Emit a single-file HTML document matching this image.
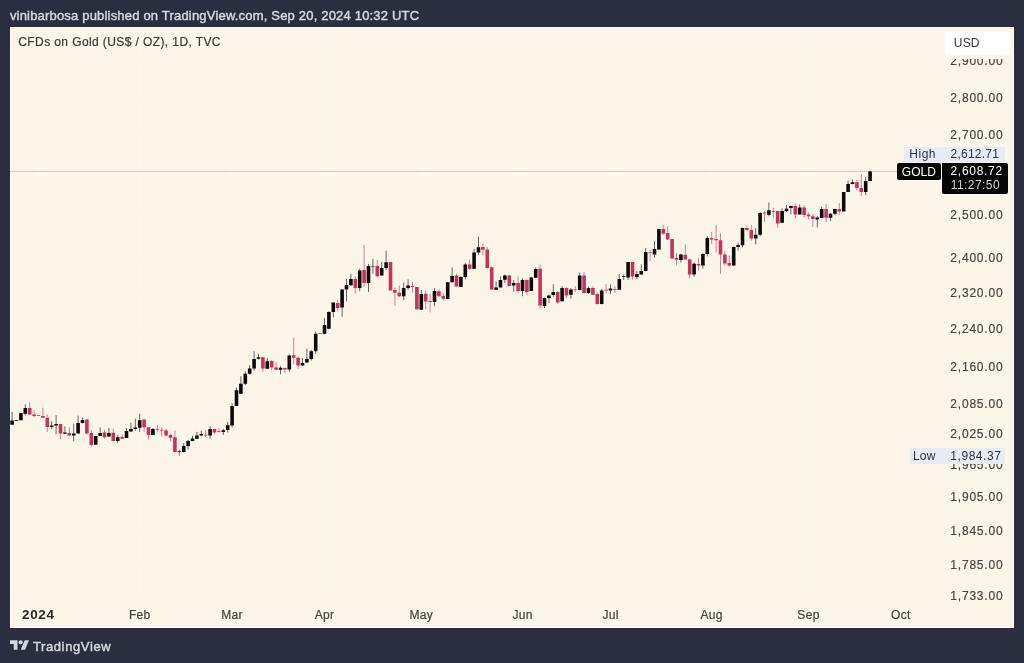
<!DOCTYPE html>
<html lang="en"><head><meta charset="utf-8"><title>CFDs on Gold (US$ / OZ), 1D, TVC</title>
<style>
html,body{margin:0;padding:0}
body{width:1024px;height:663px;background:#2a2e3f;position:relative;overflow:hidden;font-family:"Liberation Sans",Arial,sans-serif}
.abs{position:absolute;white-space:pre;line-height:1}
#hdr{left:9.9px;top:8.6px;font-size:13px;font-weight:400;color:#d3d6de;letter-spacing:0.19px;-webkit-text-stroke:0.45px #d3d6de}
#chart{left:9.5px;top:26.5px;width:1004.5px;height:601.0px;background:#fcf5ea;box-shadow:inset 0 0 0 1px #fffdf8}
#ttl{font-size:12px;color:#3c3a38;letter-spacing:0.4px;-webkit-text-stroke:0.2px #3c3a38}
.pl{font-size:12px;color:#4a4744;letter-spacing:0.8px;left:950.3px;-webkit-text-stroke:0.2px #4a4744}
.ml{font-size:12px;color:#45423f;letter-spacing:0.3px;-webkit-text-stroke:0.2px #45423f;transform:translateX(-50%)}
#usd{left:945px;top:31.5px;width:64.5px;height:23px;background:#fff;border-radius:3px}
.band{background:#e6ebf6;color:#2e3348;font-size:12px}
svg{position:absolute;left:0;top:0}

</style></head><body>
<div id="hdr" class="abs">vinibarbosa published on TradingView.com, Sep 20, 2024 10:32 UTC</div>
<div id="chart" class="abs"></div>
<svg width="1024" height="663" viewBox="0 0 1024 663">
<path d="M38.5 27.5V600M139.7 27.5V600M232.1 27.5V600M324.5 27.5V600M421.3 27.5V600M522.5 27.5V600M610.5 27.5V600M711.7 27.5V600M808.5 27.5V600M900.9 27.5V600M10.5 61.2H941M10.5 97.6H941M10.5 135.4H941M10.5 174.5H941M10.5 215.2H941M10.5 257.6H941M10.5 292.8H941M10.5 329.2H941M10.5 367.0H941M10.5 403.7H941M10.5 434.0H941M10.5 465.2H941M10.5 497.4H941M10.5 530.6H941M10.5 565.0H941M10.5 595.6H941" stroke="#fcf7ee" stroke-width="1" fill="none"/>
<path d="M10 171.4H897" stroke="#b5b0a6" stroke-width="0.8" stroke-dasharray="1.6 0.4" fill="none"/>
<path d="M29.70 402.12V414.62M34.10 410.00V417.50M42.90 407.50V418.12M47.30 414.38V431.88M60.50 424.00V439.38M69.30 427.25V436.00M86.90 419.38V434.38M91.30 430.25V446.88M104.50 430.00V438.75M113.30 428.50V441.25M122.10 434.38V439.00M144.10 419.38V431.88M148.50 427.25V439.38M157.30 425.00V431.88M161.70 427.50V436.25M166.10 428.75V436.25M170.50 433.75V441.25M174.90 430.62V452.50M205.70 430.00V436.88M214.50 428.75V434.38M218.90 428.12V432.50M262.90 356.88V371.88M271.70 360.00V370.62M276.10 361.88V370.00M284.90 367.50V373.12M293.70 337.50V364.38M298.10 356.25V368.75M337.70 300.00V311.25M355.30 276.25V293.75M364.10 245.00V286.88M377.30 260.00V277.50M394.90 287.50V305.62M399.30 285.62V296.88M412.50 281.88V292.50M425.70 290.62V309.38M430.10 293.75V312.50M438.90 289.38V296.88M443.30 293.12V300.62M456.50 273.75V286.88M469.70 259.38V270.00M482.90 243.75V255.00M487.30 246.88V268.75M491.70 266.25V289.62M509.30 275.00V286.25M518.10 276.25V293.12M526.90 279.38V295.00M540.10 264.38V308.75M557.70 291.25V303.75M566.50 287.50V298.12M575.30 286.25V291.88M584.10 271.88V293.75M592.90 286.25V295.00M597.30 292.50V304.38M606.10 283.75V293.75M614.90 286.25V293.12M632.50 261.88V279.38M650.10 250.00V261.25M663.30 225.00V235.00M667.70 226.25V239.75M672.10 238.75V258.75M676.50 253.12V265.00M685.30 244.38V259.75M689.70 258.75V278.12M698.50 257.50V270.62M711.70 231.88V244.38M716.10 225.00V252.50M720.50 233.12V273.75M724.90 251.25V265.62M729.30 255.62V266.88M746.90 225.62V231.25M751.30 225.00V240.62M764.50 211.25V221.88M773.30 207.50V217.50M777.70 210.62V227.75M795.30 203.75V218.12M804.10 205.00V217.50M808.50 212.50V219.38M812.90 213.75V226.88M826.10 203.75V221.88M839.30 203.12V215.00M856.90 180.00V190.62M861.30 174.38V196.25" stroke="#c2335d" stroke-width="0.62" fill="none"/>
<path d="M27.90 408.12h3.6V414.62h-3.6zM32.30 414.62h3.6V416.00h-3.6zM36.70 415.33h3.6V415.93h-3.6zM41.10 415.88h3.6V417.75h-3.6zM45.50 417.75h3.6V426.88h-3.6zM58.70 424.00h3.6V433.50h-3.6zM67.50 432.88h3.6V435.62h-3.6zM85.10 419.38h3.6V433.50h-3.6zM89.50 433.12h3.6V445.00h-3.6zM102.70 432.50h3.6V437.25h-3.6zM111.50 432.75h3.6V441.00h-3.6zM120.30 436.88h3.6V438.75h-3.6zM142.30 419.38h3.6V427.25h-3.6zM146.70 427.25h3.6V435.00h-3.6zM155.50 429.12h3.6V429.75h-3.6zM159.90 429.75h3.6V430.62h-3.6zM164.30 430.38h3.6V435.38h-3.6zM168.70 435.00h3.6V437.75h-3.6zM173.10 437.25h3.6V451.88h-3.6zM203.90 434.75h3.6V435.38h-3.6zM212.70 429.12h3.6V432.50h-3.6zM217.10 431.25h3.6V431.88h-3.6zM261.10 357.25h3.6V368.50h-3.6zM269.90 361.00h3.6V367.50h-3.6zM274.30 367.50h3.6V369.75h-3.6zM283.10 368.12h3.6V369.38h-3.6zM291.90 355.25h3.6V357.75h-3.6zM296.30 357.75h3.6V365.62h-3.6zM335.90 302.88h3.6V308.12h-3.6zM353.50 279.12h3.6V288.12h-3.6zM362.30 270.00h3.6V283.12h-3.6zM375.50 265.88h3.6V276.25h-3.6zM388.70 261.88h3.6V290.62h-3.6zM393.10 290.00h3.6V292.75h-3.6zM397.50 292.75h3.6V296.25h-3.6zM410.70 286.00h3.6V286.88h-3.6zM415.10 286.88h3.6V309.38h-3.6zM423.90 293.75h3.6V301.50h-3.6zM428.30 301.00h3.6V301.88h-3.6zM437.10 291.25h3.6V296.25h-3.6zM441.50 296.00h3.6V298.75h-3.6zM454.70 275.62h3.6V286.50h-3.6zM467.90 264.38h3.6V268.75h-3.6zM481.10 246.88h3.6V249.75h-3.6zM485.50 249.62h3.6V268.12h-3.6zM489.90 267.25h3.6V289.62h-3.6zM507.50 275.62h3.6V285.88h-3.6zM516.30 283.12h3.6V290.88h-3.6zM525.10 280.00h3.6V291.88h-3.6zM538.30 268.75h3.6V305.62h-3.6zM555.90 291.88h3.6V302.50h-3.6zM564.70 288.12h3.6V295.62h-3.6zM573.50 289.38h3.6V290.00h-3.6zM582.30 275.62h3.6V293.12h-3.6zM591.10 287.88h3.6V294.75h-3.6zM595.50 294.00h3.6V304.00h-3.6zM604.30 289.75h3.6V290.38h-3.6zM613.10 289.12h3.6V289.75h-3.6zM630.70 262.12h3.6V276.50h-3.6zM648.30 252.25h3.6V253.12h-3.6zM661.50 229.12h3.6V233.75h-3.6zM665.90 233.12h3.6V239.38h-3.6zM670.30 239.12h3.6V258.50h-3.6zM674.70 258.12h3.6V259.75h-3.6zM683.50 254.75h3.6V259.38h-3.6zM687.90 259.38h3.6V274.38h-3.6zM696.70 264.00h3.6V265.38h-3.6zM709.90 237.88h3.6V239.38h-3.6zM714.30 239.12h3.6V240.25h-3.6zM718.70 240.25h3.6V254.62h-3.6zM723.10 254.62h3.6V263.50h-3.6zM727.50 262.88h3.6V265.62h-3.6zM745.10 228.12h3.6V230.00h-3.6zM749.50 230.00h3.6V238.38h-3.6zM762.70 212.50h3.6V213.50h-3.6zM771.50 211.25h3.6V212.00h-3.6zM775.90 211.00h3.6V223.50h-3.6zM793.50 206.00h3.6V214.62h-3.6zM802.30 207.50h3.6V215.00h-3.6zM806.70 214.38h3.6V216.25h-3.6zM811.10 216.25h3.6V219.00h-3.6zM824.30 209.12h3.6V217.75h-3.6zM837.50 209.12h3.6V211.50h-3.6zM855.10 182.25h3.6V188.12h-3.6zM859.50 188.12h3.6V191.88h-3.6z" fill="#c2335d"/>
<path d="M12.10 411.88V424.75M25.30 404.38V415.62M51.70 421.25V429.00M56.10 415.00V434.38M64.90 426.25V433.75M73.70 423.75V441.25M78.10 415.62V433.38M82.50 417.75V423.50M100.10 427.50V436.00M108.90 428.12V436.62M117.70 435.00V443.12M126.50 428.12V438.12M130.90 422.75V431.62M135.30 418.75V430.62M139.70 413.75V431.88M152.90 428.12V435.00M179.30 450.00V455.62M183.70 443.12V452.25M188.10 440.00V449.38M192.50 435.62V441.25M196.90 431.88V439.00M201.30 430.62V436.25M210.10 426.25V438.75M223.30 428.75V435.00M227.70 421.88V432.50M232.10 403.12V427.50M236.50 387.50V406.25M240.90 376.25V394.00M245.30 371.25V385.00M249.70 365.00V374.38M254.10 351.25V370.62M258.50 353.75V359.38M267.30 358.12V368.75M280.50 366.25V374.38M289.30 354.38V371.88M302.50 358.12V365.88M306.90 348.75V362.75M311.30 350.00V360.62M315.70 331.25V353.75M324.50 318.12V334.38M328.90 311.25V329.38M333.30 302.50V317.50M342.10 289.38V316.88M346.50 278.75V301.25M350.90 273.75V285.62M359.70 268.75V291.25M368.50 264.38V291.88M372.90 258.75V273.75M381.70 261.88V275.62M386.10 250.62V270.00M403.70 282.50V300.00M408.10 279.38V290.00M421.30 290.00V310.00M434.50 288.12V306.25M447.70 281.88V299.38M452.10 267.50V282.50M460.90 276.25V286.88M465.30 263.12V279.38M474.10 248.75V268.75M478.50 236.50V255.00M496.10 281.25V290.00M500.50 276.25V287.50M504.90 274.38V283.12M513.70 280.00V291.88M522.50 278.12V296.25M531.30 276.88V290.88M535.70 267.50V278.12M544.50 297.50V308.12M548.90 294.38V303.12M553.30 284.38V296.88M562.10 286.25V301.50M570.90 288.12V298.75M579.70 272.50V290.62M588.50 286.88V293.75M601.70 288.75V304.38M610.50 284.38V293.75M619.30 273.75V290.00M623.70 274.38V280.00M628.10 261.88V280.00M636.90 271.25V279.38M641.30 264.38V274.62M645.70 248.12V271.25M654.50 241.25V257.50M658.90 229.12V249.62M680.90 253.75V262.50M694.10 262.50V276.88M702.90 253.12V268.50M707.30 236.25V256.25M733.70 246.25V266.00M738.10 242.50V250.62M742.50 227.50V247.50M755.70 228.12V244.38M760.10 211.88V236.25M768.90 202.50V216.25M782.10 208.12V223.12M786.50 205.00V211.88M790.90 205.62V214.38M799.70 204.38V214.38M817.30 216.25V227.50M821.70 206.88V218.12M830.50 213.12V221.25M834.90 208.75V215.00M848.10 180.62V191.88M852.50 179.38V184.38M865.70 176.88V195.00M870.10 170.62V181.00" stroke="#0b0b0b" stroke-width="0.62" fill="none"/>
<path d="M10.30 420.62h3.6V424.75h-3.6zM14.70 420.33h3.6V420.93h-3.6zM19.10 412.88h3.6V420.25h-3.6zM23.50 408.12h3.6V413.75h-3.6zM49.90 425.38h3.6V426.88h-3.6zM54.30 424.00h3.6V425.62h-3.6zM63.10 432.50h3.6V433.75h-3.6zM71.90 433.38h3.6V435.38h-3.6zM76.30 423.12h3.6V433.38h-3.6zM80.70 420.00h3.6V423.12h-3.6zM93.90 436.00h3.6V444.75h-3.6zM98.30 432.88h3.6V436.00h-3.6zM107.10 432.88h3.6V436.62h-3.6zM115.90 437.25h3.6V441.00h-3.6zM124.70 431.00h3.6V438.12h-3.6zM129.10 429.00h3.6V431.62h-3.6zM133.50 427.50h3.6V429.12h-3.6zM137.90 420.25h3.6V427.75h-3.6zM151.10 429.12h3.6V435.00h-3.6zM177.50 451.25h3.6V451.88h-3.6zM181.90 445.88h3.6V451.88h-3.6zM186.30 440.88h3.6V446.00h-3.6zM190.70 438.50h3.6V441.00h-3.6zM195.10 435.38h3.6V438.75h-3.6zM199.50 434.00h3.6V435.62h-3.6zM208.30 429.12h3.6V435.38h-3.6zM221.50 430.25h3.6V432.12h-3.6zM225.90 425.25h3.6V430.00h-3.6zM230.30 406.00h3.6V425.62h-3.6zM234.70 390.25h3.6V406.00h-3.6zM239.10 383.75h3.6V393.75h-3.6zM243.50 373.75h3.6V383.75h-3.6zM247.90 368.38h3.6V373.75h-3.6zM252.30 359.12h3.6V368.38h-3.6zM256.70 357.25h3.6V358.75h-3.6zM265.50 361.25h3.6V368.75h-3.6zM278.70 367.75h3.6V369.75h-3.6zM287.50 355.62h3.6V369.38h-3.6zM300.70 363.12h3.6V365.62h-3.6zM305.10 359.12h3.6V362.50h-3.6zM309.50 351.25h3.6V359.12h-3.6zM313.90 333.75h3.6V351.25h-3.6zM318.30 332.88h3.6V333.50h-3.6zM322.70 325.00h3.6V333.75h-3.6zM327.10 311.88h3.6V328.75h-3.6zM331.50 302.50h3.6V311.88h-3.6zM340.30 289.38h3.6V307.50h-3.6zM344.70 285.00h3.6V289.62h-3.6zM349.10 279.12h3.6V285.25h-3.6zM357.90 270.62h3.6V288.12h-3.6zM366.70 265.88h3.6V283.12h-3.6zM371.10 265.95h3.6V266.55h-3.6zM379.90 268.12h3.6V275.62h-3.6zM384.30 262.25h3.6V268.12h-3.6zM401.90 288.12h3.6V296.25h-3.6zM406.30 285.62h3.6V288.12h-3.6zM419.50 294.00h3.6V309.75h-3.6zM432.70 291.00h3.6V301.88h-3.6zM445.90 282.25h3.6V299.00h-3.6zM450.30 276.00h3.6V282.25h-3.6zM459.10 276.88h3.6V286.88h-3.6zM463.50 264.38h3.6V277.12h-3.6zM472.30 252.50h3.6V268.75h-3.6zM476.70 247.25h3.6V252.50h-3.6zM494.30 287.50h3.6V289.75h-3.6zM498.70 280.00h3.6V287.50h-3.6zM503.10 275.62h3.6V279.75h-3.6zM511.90 283.12h3.6V285.62h-3.6zM520.70 280.00h3.6V290.88h-3.6zM529.50 277.50h3.6V290.88h-3.6zM533.90 269.00h3.6V277.75h-3.6zM542.70 297.88h3.6V305.88h-3.6zM547.10 295.38h3.6V297.88h-3.6zM551.50 291.88h3.6V295.00h-3.6zM560.30 287.88h3.6V301.25h-3.6zM569.10 289.38h3.6V294.75h-3.6zM577.90 275.62h3.6V290.00h-3.6zM586.70 288.12h3.6V293.12h-3.6zM599.90 290.62h3.6V304.00h-3.6zM608.70 288.38h3.6V290.62h-3.6zM617.50 279.00h3.6V289.75h-3.6zM621.90 276.25h3.6V277.00h-3.6zM626.30 262.12h3.6V277.50h-3.6zM635.10 274.12h3.6V276.88h-3.6zM639.50 271.00h3.6V274.38h-3.6zM643.90 251.88h3.6V271.00h-3.6zM652.70 249.12h3.6V254.38h-3.6zM657.10 229.12h3.6V249.38h-3.6zM679.10 254.38h3.6V260.00h-3.6zM692.30 263.75h3.6V274.62h-3.6zM701.10 254.00h3.6V265.38h-3.6zM705.50 238.12h3.6V254.00h-3.6zM731.90 247.12h3.6V265.62h-3.6zM736.30 245.00h3.6V246.88h-3.6zM740.70 227.88h3.6V245.25h-3.6zM753.90 234.75h3.6V238.38h-3.6zM758.30 213.12h3.6V234.75h-3.6zM767.10 210.25h3.6V214.75h-3.6zM780.30 211.00h3.6V222.75h-3.6zM784.70 208.75h3.6V211.00h-3.6zM789.10 206.00h3.6V208.12h-3.6zM797.90 207.50h3.6V214.38h-3.6zM815.50 217.50h3.6V219.38h-3.6zM819.90 209.12h3.6V218.12h-3.6zM828.70 213.75h3.6V217.75h-3.6zM833.10 209.12h3.6V213.75h-3.6zM841.90 191.88h3.6V211.50h-3.6zM846.30 184.12h3.6V191.88h-3.6zM850.70 182.25h3.6V184.12h-3.6zM863.90 181.00h3.6V191.88h-3.6zM868.30 171.50h3.6V181.00h-3.6z" fill="#0b0b0b"/>
</svg>
<div id="ttl" class="abs" style="left:18.3px;top:35.6px">CFDs on Gold (US$ / OZ), 1D, TVC</div>
<div class="abs pl" style="top:55.2px">2,900.00</div>
<div class="abs pl" style="top:91.6px">2,800.00</div>
<div class="abs pl" style="top:129.4px">2,700.00</div>
<div class="abs pl" style="top:209.2px">2,500.00</div>
<div class="abs pl" style="top:251.6px">2,400.00</div>
<div class="abs pl" style="top:286.8px">2,320.00</div>
<div class="abs pl" style="top:323.2px">2,240.00</div>
<div class="abs pl" style="top:361.0px">2,160.00</div>
<div class="abs pl" style="top:397.7px">2,085.00</div>
<div class="abs pl" style="top:428.0px">2,025.00</div>
<div class="abs pl" style="top:459.2px">1,965.00</div>
<div class="abs pl" style="top:491.4px">1,905.00</div>
<div class="abs pl" style="top:524.6px">1,845.00</div>
<div class="abs pl" style="top:559.0px">1,785.00</div>
<div class="abs pl" style="top:589.6px">1,733.00</div>
<div class="abs" style="left:941px;top:27.5px;width:72px;height:31.2px;background:#fcf5ea"></div><div id="usd" class="abs"></div><div class="abs" style="left:953.8px;top:36.5px;font-size:12px;color:#333;letter-spacing:0.2px">USD</div>
<div class="abs band" style="left:904px;top:146.8px;width:101px;height:15.5px"></div>
<div class="abs" style="left:909.3px;top:147.8px;font-size:12px;color:#2e3348;letter-spacing:0.5px">High</div>
<div class="abs" style="left:950.5px;top:147.8px;font-size:12px;color:#2e3348;letter-spacing:0.25px">2,612.71</div>
<div class="abs band" style="left:909.5px;top:447.8px;width:95.5px;height:16px"></div>
<div class="abs" style="left:913px;top:449.8px;font-size:12px;color:#2e3348;letter-spacing:0.2px">Low</div>
<div class="abs" style="left:950.3px;top:449.8px;font-size:12px;color:#2e3348;letter-spacing:0.55px">1,984.37</div>
<div class="abs" style="left:897.2px;top:163.3px;width:43.6px;height:16.3px;background:#060606;border-radius:2px"></div>
<div class="abs" style="left:901.8px;top:165.5px;font-size:12px;color:#fff;letter-spacing:0px">GOLD</div>
<div class="abs" style="left:941.6px;top:163.3px;width:66.4px;height:30.3px;background:#060606;border-radius:0 2px 2px 2px"></div>
<div class="abs" style="left:950.5px;top:165px;font-size:12px;color:#fff;letter-spacing:0.7px">2,608.72</div>
<div class="abs" style="left:950.7px;top:178.8px;font-size:12px;color:#d0d0d0;letter-spacing:0.45px">11:27:50</div>
<div class="abs" style="left:22.2px;top:609.4px;font-size:12px;font-weight:700;color:#2b2927;letter-spacing:0.55px;transform:scaleX(1.125);transform-origin:0 0">2024</div>
<div class="abs ml" style="left:139.7px;top:609.3px">Feb</div>
<div class="abs ml" style="left:232.1px;top:609.3px">Mar</div>
<div class="abs ml" style="left:324.5px;top:609.3px">Apr</div>
<div class="abs ml" style="left:421.3px;top:609.3px">May</div>
<div class="abs ml" style="left:522.5px;top:609.3px">Jun</div>
<div class="abs ml" style="left:610.5px;top:609.3px">Jul</div>
<div class="abs ml" style="left:711.7px;top:609.3px">Aug</div>
<div class="abs ml" style="left:808.5px;top:609.3px">Sep</div>
<div class="abs ml" style="left:900.9px;top:609.3px">Oct</div>
<svg width="19" height="10" viewBox="0 4 35.5 18" style="left:10.2px;top:640.2px"><path d="M14 22H7V11H0V4h14v18zM28 22h-8l7.5-18h8L28 22z" fill="#d3d6de"/><circle cx="20" cy="8" r="4" fill="#d3d6de"/></svg>
<div class="abs" style="left:32.9px;top:639.6px;font-size:13px;font-weight:400;color:#d3d6de;letter-spacing:0.62px;-webkit-text-stroke:0.45px #d3d6de">TradingView</div>
</body></html>
